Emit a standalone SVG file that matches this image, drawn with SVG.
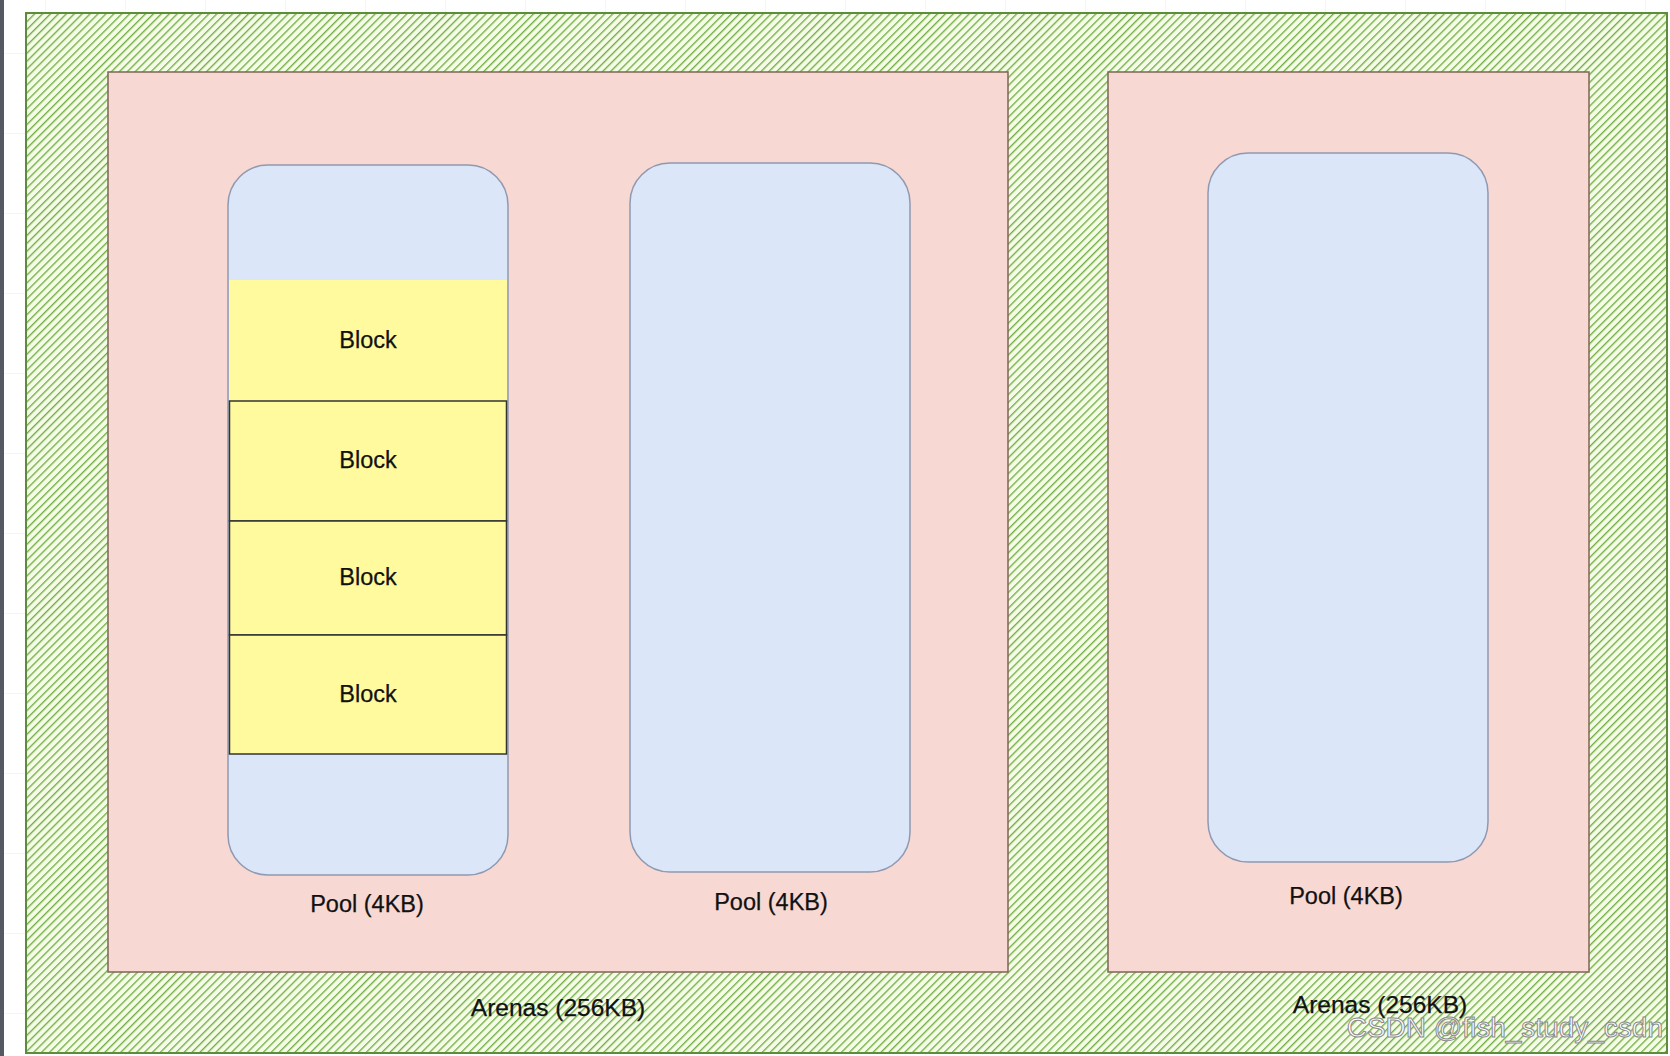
<svg xmlns="http://www.w3.org/2000/svg" width="1670" height="1056" viewBox="0 0 1670 1056">
  <defs>
    <pattern id="grid" width="80" height="80" patternUnits="userSpaceOnUse" x="45" y="53">
      <path d="M0 0 V80 M0 0 H80" fill="none" stroke="#ececec" stroke-width="1"/>
    </pattern>
    <pattern id="hatch" width="5.6" height="5.6" patternUnits="userSpaceOnUse" patternTransform="rotate(45)">
      <rect width="5.6" height="5.6" fill="#f4fbe6"/>
      <line x1="0" y1="0" x2="0" y2="5.6" stroke="#74ad46" stroke-width="2.7"/>
    </pattern>
    <style>
      .label { font-family: "Liberation Sans", Arial, sans-serif; fill: #111111; stroke: #111111; stroke-width: 0.25; text-anchor: middle; }
      .arena { fill: #f8d8d2; stroke: #7d6656; stroke-width: 1.5; }
      .pool { fill: #dbe7f9; stroke: #8f99b1; stroke-width: 1.5; }
      .block { fill: #fffa9e; stroke: #333333; stroke-width: 1.5; }
    </style>
  </defs>

  <rect width="1670" height="1056" fill="#ffffff"/>
  <rect width="1670" height="1056" fill="url(#grid)"/>
  <rect x="0" y="0" width="4" height="1056" fill="#555a60"/>

  <g id="outer">
    <rect x="26" y="13" width="1641" height="1040" fill="url(#hatch)" stroke="#5c8c3c" stroke-width="2"/>
  </g>

  <g id="arena1">
    <rect class="arena" x="108" y="72" width="900" height="900"/>
    <text class="label" x="558" y="1016" font-size="24.5">Arenas (256KB)</text>
  </g>

  <g id="arena2">
    <rect class="arena" x="1108" y="72" width="481" height="900"/>
    <text class="label" x="1380" y="1013" font-size="24.5">Arenas (256KB)</text>
  </g>

  <g id="pool1">
    <rect class="pool" x="228" y="165" width="280" height="710" rx="40" ry="40"/>
    <text class="label" x="367" y="912" font-size="23.5">Pool (4KB)</text>
  </g>

  <g id="pool2">
    <rect class="pool" x="630" y="163" width="280" height="709" rx="40" ry="40"/>
    <text class="label" x="771" y="910" font-size="23.5">Pool (4KB)</text>
  </g>

  <g id="pool3">
    <rect class="pool" x="1208" y="153" width="280" height="709" rx="40" ry="40"/>
    <text class="label" x="1346" y="904" font-size="23.5">Pool (4KB)</text>
  </g>

  <g id="block1">
    <rect x="229" y="280" width="278" height="121" fill="#fffa9e"/>
    <text class="label" x="368" y="348" font-size="23.5">Block</text>
  </g>
  <g id="block2">
    <rect class="block" x="229.5" y="401" width="277" height="120"/>
    <text class="label" x="368" y="468" font-size="23.5">Block</text>
  </g>
  <g id="block3">
    <rect class="block" x="229.5" y="521" width="277" height="114"/>
    <text class="label" x="368" y="585" font-size="23.5">Block</text>
  </g>
  <g id="block4">
    <rect class="block" x="229.5" y="635" width="277" height="119"/>
    <text class="label" x="368" y="702" font-size="23.5">Block</text>
  </g>

  <g id="connectors"></g>

  <text x="1663" y="1037" font-family="Liberation Sans, Arial, sans-serif" font-size="28" text-anchor="end" fill="#ffffff" stroke="#8a8a8a" stroke-width="1">CSDN @fish_study_csdn</text>
</svg>
